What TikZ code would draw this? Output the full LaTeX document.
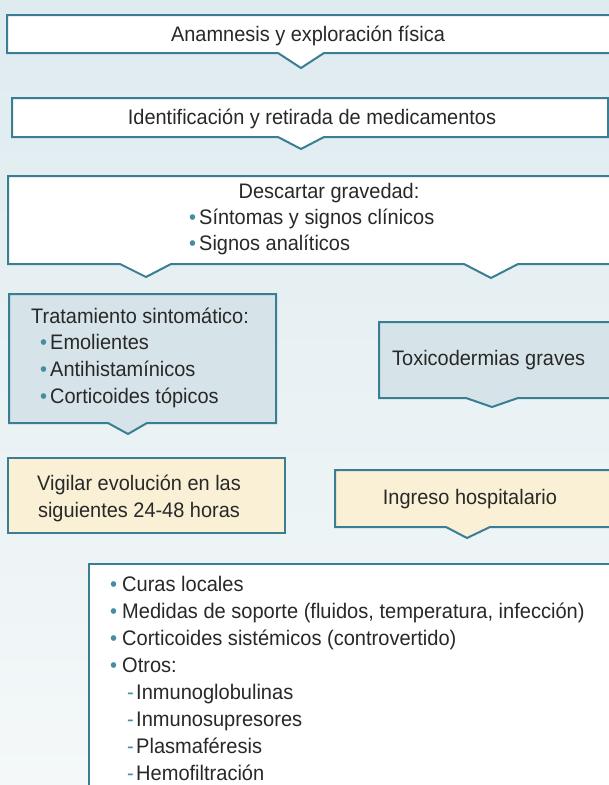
\documentclass[tikz,border=0pt]{standalone}
\usepackage{fontspec}
\setmainfont{Liberation Sans}[FakeStretch=0.95]
\usepackage{xcolor}
\usepackage{tikz}
\usetikzlibrary{positioning}
\definecolor{fdTeal}{RGB}{58,126,148}
\definecolor{fdBullet}{RGB}{70,140,162}
\definecolor{fdText}{RGB}{40,40,40}
\definecolor{fdBgTop}{RGB}{222,235,239}
\definecolor{fdBgBot}{RGB}{244,248,249}
\definecolor{fdBlue}{RGB}{214,227,233}
\definecolor{fdCream}{RGB}{250,240,214}
\newcommand{\fditem}[2][3pt]{\llap{\textcolor{fdBullet}{\textbullet}\hspace{#1}}#2}
\newcommand{\fdsub}[1]{\llap{\textcolor{fdBullet}{-}\hspace{2.5pt}}#1}

\begin{document}
\begin{tikzpicture}[x=1pt,y=-1pt,
  fdbox/.style={draw=fdTeal, line width=2pt},
  fdtxt/.style={text=fdText, inner sep=0pt, anchor=base west, font=\fontsize{21}{26}\selectfont},
  fdmid/.style={fdtxt, anchor=base},
  fdlist/.style={fdtxt, font=\fontsize{21.1}{27}\selectfont}]
\clip (0,0) rectangle (609,785);
\shade[top color=fdBgTop, bottom color=fdBgBot] (0,0) rectangle (609,785);
% boxes with their pointers
\draw[fdbox, fill=white] (7,15)--(612,15)--(612,53)--(324,53)--(301,68)--(278,53)--(7,53)--cycle;
\draw[fdbox, fill=white] (12,98)--(608,98)--(608,137)--(324,137)--(301,149)--(278,137)--(12,137)--cycle;
\draw[fdbox, fill=white] (8,176)--(612,176)--(612,264)--(518,264)--(491,278)--(464,264)--(171,264)--(146,277)--(120,264)--(8,264)--cycle;
\draw[fdbox, fill=fdBlue] (9,294)--(276,294)--(276,423)--(147,423)--(128,434)--(108,423)--(9,423)--cycle;
\draw[fdbox, fill=fdBlue] (379,322)--(612,322)--(612,398)--(518,398)--(492,407)--(466,398)--(379,398)--cycle;
\draw[fdbox, fill=fdCream] (8,458) rectangle (285,533);
\draw[fdbox, fill=fdCream] (335,470)--(612,470)--(612,527)--(490,527)--(467,538)--(446,527)--(335,527)--cycle;
\draw[fdbox, fill=white] (89,564) rectangle (612,790);
% texts
\node[fdmid] (anam) at (308,41) {Anamnesis y exploración física};
\node[fdmid] (ident) at (312,124) {Identificación y retirada de medicamentos};
\node[fdmid] (desc) at (329,198) {Descartar gravedad:};
\node[fdtxt] (sint) at (199,224) {\fditem{Síntomas y signos clínicos}};
\node[fdtxt] (sign) at (199,250) {\fditem{Signos analíticos}};
\node[fdtxt] (trat) at (31,323) {Tratamiento sintomático:};
\node[fdtxt] (emol) at (50,349) {\fditem{Emolientes}};
\node[fdtxt] (anti) at (50,376) {\fditem{Antihistamínicos}};
\node[fdtxt] (cort) at (50,403) {\fditem{Corticoides tópicos}};
\node[fdtxt] (toxi) at (392,365) {Toxicodermias graves};
\node[fdmid] (vig1) at (139,490) {Vigilar evolución en las};
\node[fdmid] (vig2) at (139,517) {siguientes 24-48 horas};
\node[fdmid] (ingr) at (470,504) {Ingreso hospitalario};
% hospital care list
\node[fdlist] (cura) at (122,591) {\fditem[5pt]{Curas locales}};
\node[fdlist] (medi) at (122,618) {\fditem[5pt]{Medidas de soporte (fluidos, temperatura, infección)}};
\node[fdlist] (sist) at (122,645) {\fditem[5pt]{Corticoides sistémicos (controvertido)}};
\node[fdlist] (otro) at (122,672) {\fditem[5pt]{Otros:}};
\node[fdlist] (igl) at (136,699) {\fdsub{Inmunoglobulinas}};
\node[fdlist] (isup) at (136,726) {\fdsub{Inmunosupresores}};
\node[fdlist] (plas) at (136,753) {\fdsub{Plasmaféresis}};
\node[fdlist] (hemo) at (136,780) {\fdsub{Hemofiltración}};
\end{tikzpicture}
\end{document}
